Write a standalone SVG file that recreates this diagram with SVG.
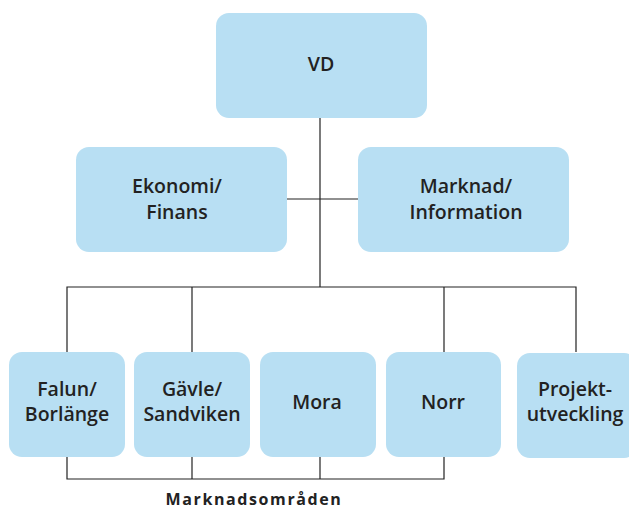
<svg xmlns="http://www.w3.org/2000/svg" width="629" height="510" viewBox="0 0 629 510">
<style>
.box{fill:#b8dff3;}
.t{font-family:"Open Sans","Noto Sans","Liberation Sans",sans-serif;font-size:19.5px;font-weight:600;fill:#222;text-anchor:middle;}
.c{stroke:#222;stroke-width:1.2;fill:none;}
.lbl{font-family:"Open Sans","Noto Sans","Liberation Sans",sans-serif;font-size:16px;font-weight:700;fill:#222;text-anchor:middle;letter-spacing:1.6px;}
</style>
<rect width="629" height="510" fill="#fff"/>
<g id="connectors">
<line class="c" x1="320" y1="118" x2="320" y2="287"/>
<line class="c" x1="287" y1="199" x2="358" y2="199"/>
<polyline class="c" points="67,352 67,287 576,287 576,352"/>
<line class="c" x1="192" y1="287" x2="192" y2="352"/>
<line class="c" x1="444" y1="287" x2="444" y2="352"/>
<polyline class="c" points="67,457 67,479 444,479 444,457"/>
<line class="c" x1="192" y1="457" x2="192" y2="479"/>
<line class="c" x1="320" y1="457" x2="320" y2="479"/>
</g>
<g id="vd"><rect class="box" x="216" y="13" width="211" height="105" rx="13"/><text class="t" x="321" y="71">VD</text></g>
<g id="ekonomi"><rect class="box" x="76" y="147" width="211" height="105" rx="13"/><text class="t" x="177" y="193">Ekonomi/</text><text class="t" x="177" y="219">Finans</text></g>
<g id="marknad"><rect class="box" x="358" y="147" width="211" height="105" rx="13"/><text class="t" x="466" y="193">Marknad/</text><text class="t" x="466" y="219">Information</text></g>
<g id="falun"><rect class="box" x="9" y="352" width="116" height="105" rx="13"/><text class="t" x="67" y="396">Falun/</text><text class="t" x="67" y="421">Borlänge</text></g>
<g id="gavle"><rect class="box" x="134" y="352" width="116" height="105" rx="13"/><text class="t" x="192" y="396">Gävle/</text><text class="t" x="192" y="421">Sandviken</text></g>
<g id="mora"><rect class="box" x="260" y="352" width="116" height="105" rx="13"/><text class="t" x="317" y="409">Mora</text></g>
<g id="norr"><rect class="box" x="386" y="352" width="115" height="105" rx="13"/><text class="t" x="443" y="409">Norr</text></g>
<g id="projekt"><rect class="box" x="517" y="353" width="120" height="105" rx="13"/><text class="t" x="575" y="396">Projekt-</text><text class="t" x="575" y="421">utveckling</text></g>
<text class="lbl" x="254" y="505">Marknadsområden</text>
</svg>
